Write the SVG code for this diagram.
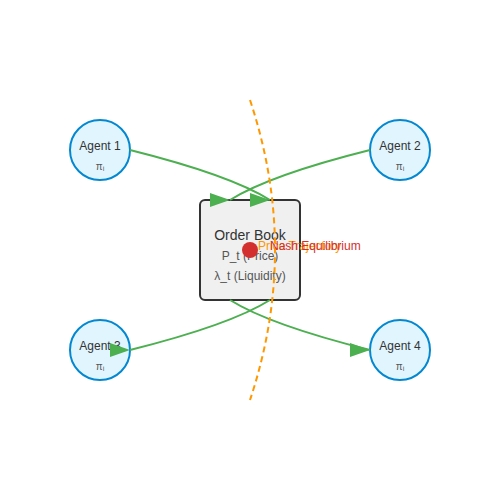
<svg xmlns="http://www.w3.org/2000/svg" width="500" height="500" viewBox="0 0 500 500">
<style>
.agent circle{fill:#e1f5fe;stroke:#0288d1;stroke-width:2}
.lbl{font-family:"Liberation Sans",Arial,sans-serif;text-anchor:middle}
.an{font-size:12px;fill:#333}
.pi{font-size:10px;fill:#555}
.edge{fill:none;stroke:#4caf50;stroke-width:2}
</style>
<defs>
<marker id="arr" markerWidth="10" markerHeight="7" refX="10" refY="3.5">
<polygon points="0 0, 10 3.5, 0 7" fill="#4caf50"/>
</marker>
</defs>
<rect width="500" height="500" fill="#fff"/>
<g id="agent1" class="agent"><circle cx="100" cy="150" r="30"/><text class="lbl an" x="100" y="150">Agent 1</text><text class="lbl pi" x="100" y="170">πᵢ</text></g>
<g id="agent2" class="agent"><circle cx="400" cy="150" r="30"/><text class="lbl an" x="400" y="150">Agent 2</text><text class="lbl pi" x="400" y="170">πᵢ</text></g>
<g id="agent3" class="agent"><circle cx="100" cy="350" r="30"/><text class="lbl an" x="100" y="350">Agent 3</text><text class="lbl pi" x="100" y="370">πᵢ</text></g>
<g id="agent4" class="agent"><circle cx="400" cy="350" r="30"/><text class="lbl an" x="400" y="350">Agent 4</text><text class="lbl pi" x="400" y="370">πᵢ</text></g>
<g id="orderbook">
<rect x="200" y="200" width="100" height="100" rx="5" fill="#f0f0f0" stroke="#333" stroke-width="2"/>
<text class="lbl" x="250" y="240" font-size="14" fill="#333">Order Book</text>
<text class="lbl" x="250" y="260" font-size="12" fill="#555">P_t (Price)</text>
<text class="lbl" x="250" y="280" font-size="12" fill="#555">λ_t (Liquidity)</text>
</g>
<g id="connectors">
<path class="edge" d="M130,150 Q230,175 270,200" marker-end="url(#arr)"/>
<path class="edge" d="M370,150 Q270,175 230,200" marker-end="url(#arr)"/>
<path class="edge" d="M270,300 Q230,325 130,350" marker-end="url(#arr)"/>
<path class="edge" d="M230,300 Q270,325 370,350" marker-end="url(#arr)"/>
</g>
<g id="trajectory">
<path d="M250,100 Q300,250 250,400" fill="none" stroke="#ff9800" stroke-width="2" stroke-dasharray="6,4"/>
<text x="258" y="250" font-family="Liberation Sans,Arial,sans-serif" font-size="12" fill="#ff9800">Price Trajectory</text>
</g>
<g id="equilibrium">
<circle cx="250" cy="250" r="8" fill="#d32f2f"/>
<text x="270" y="250" font-family="Liberation Sans,Arial,sans-serif" font-size="12" fill="#d32f2f">Nash Equilibrium</text>
</g>
</svg>
